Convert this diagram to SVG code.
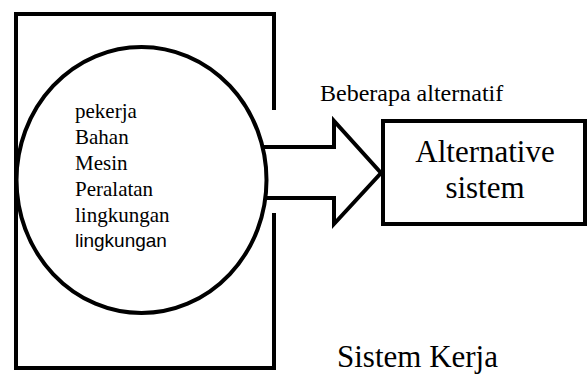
<svg xmlns="http://www.w3.org/2000/svg" width="587" height="374" viewBox="0 0 587 374">
<style>
.ln{fill:none;stroke:#000;stroke-width:4;stroke-linejoin:miter}
.serif{font-family:"Liberation Serif","Times New Roman",serif;fill:#000}
.sans{font-family:"Liberation Sans",Arial,sans-serif;fill:#000}
</style>
<rect width="587" height="374" fill="#fff"/>
<g id="connectors">
<polygon id="arrow" points="258,147 334,147 334,121 381,173 334,224 334,198 258,198" fill="#fff" stroke="#000" stroke-width="4" stroke-linejoin="miter"/>
</g>
<g id="frame">
<path class="ln" d="M274,110 V14 H16 V368 H274 V213"/>
<text class="serif" x="337" y="367" font-size="31">Sistem Kerja</text>
</g>
<g id="circle">
<ellipse cx="141.5" cy="180" rx="125" ry="133" fill="#fff" stroke="#000" stroke-width="4"/>
<text class="serif" x="75" font-size="21"><tspan x="75" y="118">pekerja</tspan><tspan x="75" y="144">Bahan</tspan><tspan x="75" y="170">Mesin</tspan><tspan x="75" y="196">Peralatan</tspan><tspan x="75" y="222">lingkungan</tspan></text>
<text class="sans" x="75" y="247" font-size="19">lingkungan</text>
</g>
<g id="label">
<text class="serif" x="320" y="101" font-size="24">Beberapa alternatif</text>
</g>
<g id="alt-box">
<rect class="ln" x="383" y="121" width="202" height="103"/>
<text class="serif" text-anchor="middle" font-size="31"><tspan x="485" y="162">Alternative</tspan><tspan x="485" y="198">sistem</tspan></text>
</g>
</svg>
